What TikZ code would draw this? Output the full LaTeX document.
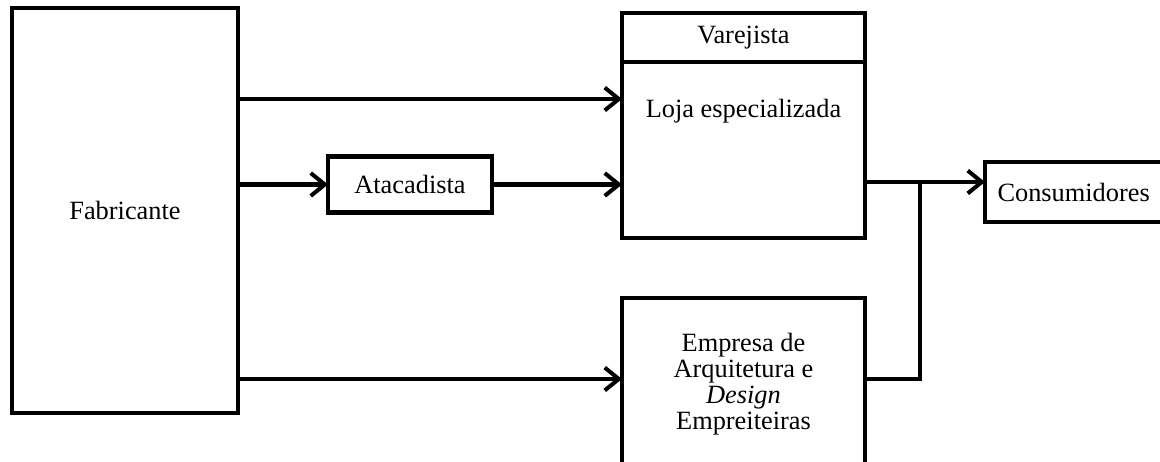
\documentclass[tikz,border=0pt]{standalone}
\usepackage{fontspec}
\setmainfont{Liberation Serif}
\usetikzlibrary{positioning, arrows.meta}

\begin{document}
\begin{tikzpicture}[
  font=\fontsize{15}{14.8}\selectfont,
  box/.style={
    rectangle, draw, line width=2.3pt,
    inner sep=0pt, outer sep=0pt, align=center
  },
  arr/.style={-{Straight Barb[length=8pt, width=13pt]}, line width=2.3pt},
  wire/.style={line width=2.3pt}
]

\path[use as bounding box] (0,0) rectangle (23.2,9.24);
\clip (0,0) rectangle (23.2,9.24);

% left column
\node[box, minimum width=4.52cm, minimum height=8.1cm] (fab) at (2.5,5.03) {Fabricante};

\node[box, minimum width=3.28cm, minimum height=1.12cm] (atac) at (8.2,5.55) {Atacadista};

% retail block: header + body
\node[box, minimum width=4.86cm, minimum height=0.98cm] (varejo) at (14.87,8.49) {Varejista};
\node[box, minimum width=4.86cm, minimum height=3.52cm, below=0pt of varejo] (loja) {};
\node[below=0.62cm of loja.north] (lojatxt) {Loja especializada};

\node[box, minimum width=4.86cm, minimum height=3.44cm] (empresa) at (14.87,1.56)
  {Empresa de\\Arquitetura e\\\textit{Design}\\Empreiteiras};

\node[box, minimum width=3.7cm, minimum height=1.2cm, inner xsep=0.24cm,
      text width=3.2cm, align=left] (cons) at (21.55,5.4) {Consumidores};

\coordinate (junct) at (18.4,5.6);

\draw[arr] (fab.east |- 0,7.26) -- (loja.west |- 0,7.26);
\draw[arr] (fab.east |- atac.west) -- (atac.west);
\draw[arr] (atac.east) -- (loja.west |- atac.east);
\draw[arr] (fab.east |- 0,1.66) -- (empresa.west |- 0,1.66);

\draw[arr] (loja.east |- junct) -- (cons.west |- junct);
\draw[wire] (empresa.east |- 0,1.66) -| (junct);

\end{tikzpicture}
\end{document}
